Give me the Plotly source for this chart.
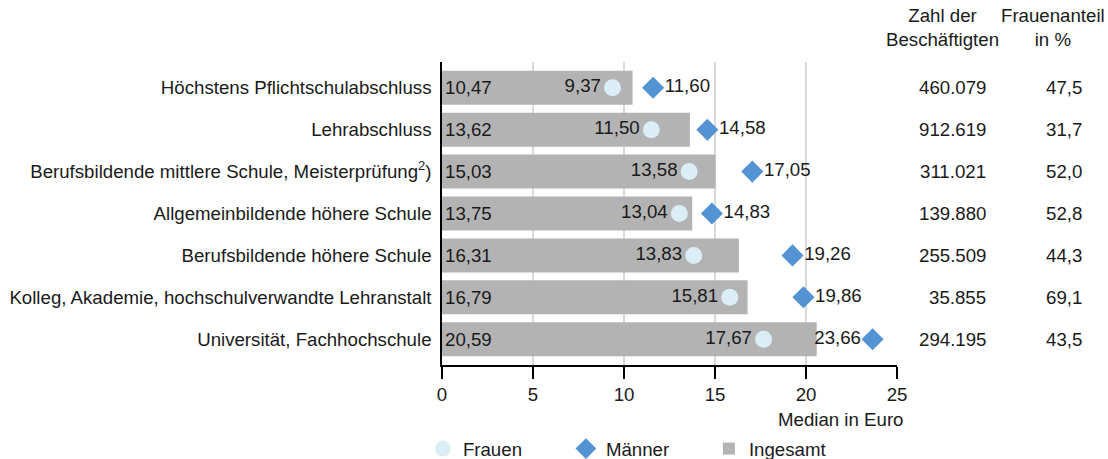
import plotly.graph_objects as go

categories = [
    "Höchstens Pflichtschulabschluss",
    "Lehrabschluss",
    "Berufsbildende mittlere Schule, Meisterprüfung<sup>2</sup>)",
    "Allgemeinbildende höhere Schule",
    "Berufsbildende höhere Schule",
    "Kolleg, Akademie, hochschulverwandte Lehranstalt",
    "Universität, Fachhochschule",
]
insgesamt = [10.47, 13.62, 15.03, 13.75, 16.31, 16.79, 20.59]
frauen = [9.37, 11.50, 13.58, 13.04, 13.83, 15.81, 17.67]
maenner = [11.60, 14.58, 17.05, 14.83, 19.26, 19.86, 23.66]
beschaeftigte = [460079, 912619, 311021, 139880, 255509, 35855, 294195]
frauenanteil = [47.5, 31.7, 52.0, 52.8, 44.3, 69.1, 43.5]
x_ticks = [0, 5, 10, 15, 20, 25]

FONT = "Liberation Sans, Arial, sans-serif"
FS = 18.67
TXT = "#1a1a1a"


def de(v, d=2):
    return f"{v:.{d}f}".replace(".", ",")


def thousands(v):
    return f"{v:,}".replace(",", ".")


fig = go.Figure()
fig.add_trace(go.Bar(
    y=categories, x=insgesamt, orientation="h", name="Ingesamt",
    marker=dict(color="#b3b3b3", line=dict(width=0)),
    text=[de(v) for v in insgesamt], textposition="inside",
    insidetextanchor="start", textfont=dict(color=TXT, size=FS, family=FONT),
    cliponaxis=False, hoverinfo="skip",
))
fig.add_trace(go.Scatter(
    y=categories, x=frauen, mode="markers+text", name="Frauen",
    marker=dict(symbol="circle", size=17, color="#dbeef6"),
    text=[de(v) for v in frauen], textposition="middle left",
    textfont=dict(color=TXT, size=FS, family=FONT), cliponaxis=False,
))
m_pos = ["middle right"] * (len(maenner) - 1) + ["middle left"]
fig.add_trace(go.Scatter(
    y=categories, x=maenner, mode="markers+text", name="Männer",
    marker=dict(symbol="diamond", size=17, color="#5493d3"),
    text=[de(v) for v in maenner], textposition=m_pos,
    textfont=dict(color=TXT, size=FS, family=FONT), cliponaxis=False,
))

annotations = []
for cat, n, p in zip(categories, beschaeftigte, frauenanteil):
    annotations.append(dict(x=1.2, xref="paper", y=cat, yref="y", text=thousands(n),
                            showarrow=False, xanchor="right", yanchor="middle",
                            font=dict(size=FS, family=FONT, color=TXT)))
    annotations.append(dict(x=1.411, xref="paper", y=cat, yref="y", text=de(p, 1),
                            showarrow=False, xanchor="right", yanchor="middle",
                            font=dict(size=FS, family=FONT, color=TXT)))
annotations.append(dict(x=1.101, xref="paper", y=1.1155, yref="paper",
                        text="Zahl der<br>Beschäftigten", showarrow=False,
                        xanchor="center", yanchor="middle",
                        font=dict(size=FS, family=FONT, color=TXT)))
annotations.append(dict(x=1.343, xref="paper", y=1.1155, yref="paper",
                        text="Frauenanteil<br>in %", showarrow=False,
                        xanchor="center", yanchor="middle",
                        font=dict(size=FS, family=FONT, color=TXT)))
annotations.append(dict(x=1.017, xref="paper", y=-0.1815, yref="paper",
                        text="Median in Euro", showarrow=False,
                        xanchor="right", yanchor="middle",
                        font=dict(size=FS, family=FONT, color=TXT)))

fig.update_layout(
    width=1108, height=459,
    margin=dict(l=442, r=211, t=62, b=94, autoexpand=False),
    paper_bgcolor="white", plot_bgcolor="white",
    font=dict(family=FONT, size=FS, color=TXT),
    bargap=0.19,
    showlegend=True,
    legend=dict(orientation="h", x=-0.042, xanchor="left", y=-0.277, yanchor="middle",
                traceorder="normal", entrywidth=98, entrywidthmode="pixels",
                font=dict(size=FS, family=FONT), itemsizing="trace"),
    xaxis=dict(range=[0, 25], tickvals=x_ticks, ticktext=[str(t) for t in x_ticks],
               showgrid=True, gridcolor="#d9d9d9", gridwidth=1.5,
               zeroline=False, showline=True, linecolor="black", linewidth=1.5,
               ticks="outside", ticklen=12, tickcolor="black", tickwidth=1.5,
               tickfont=dict(size=FS, family=FONT), automargin=False),
    yaxis=dict(autorange="reversed", showgrid=False, zeroline=False,
               showline=True, linecolor="black", linewidth=1.5,
               ticks="", ticklabelstandoff=5, automargin=False,
               tickfont=dict(size=FS, family=FONT)),
    annotations=annotations,
)
fig.data[0].legendrank = 3
fig.data[1].legendrank = 1
fig.data[2].legendrank = 2

fig.write_html("out.html", config={"displayModeBar": False},
               post_script="document.body.style.margin='0';")
